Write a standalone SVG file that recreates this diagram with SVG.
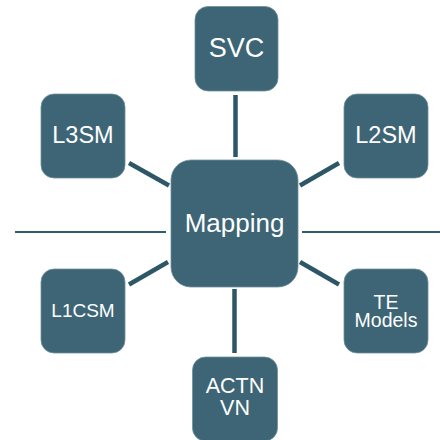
<svg xmlns="http://www.w3.org/2000/svg" width="440" height="440" viewBox="0 0 440 440">
<style>
.box{fill:#3d6576;stroke:#6f909d;stroke-width:0.8}
.t{fill:#ffffff;font-family:"Liberation Sans",Arial,sans-serif;text-anchor:middle}
.c{stroke:#2d5666;stroke-width:4.5;fill:none}
.h{stroke:#2f5d70;stroke-width:2;fill:none}
</style>
<rect width="440" height="440" fill="#ffffff"/>
<g id="connectors">
<line class="c" x1="235.5" y1="95" x2="235.5" y2="157"/>
<line class="c" x1="129" y1="163" x2="169" y2="185.5"/>
<line class="c" x1="339" y1="163" x2="300" y2="185.5"/>
<line class="c" x1="168" y1="262" x2="129" y2="284.5"/>
<line class="c" x1="300" y1="262" x2="339" y2="284.5"/>
<line class="c" x1="234.5" y1="289" x2="234.5" y2="353"/>
<line class="h" x1="15" y1="232" x2="166" y2="232"/>
<line class="h" x1="302" y1="232" x2="440" y2="232"/>
</g>
<g id="svc">
<rect class="box" x="195" y="6.5" width="83" height="84.5" rx="13"/>
<text class="t" x="236.5" y="57" font-size="27">SVC</text>
</g>
<g id="l3sm">
<rect class="box" x="41" y="94" width="84" height="84" rx="13"/>
<text class="t" x="83" y="143" font-size="23.5">L3SM</text>
</g>
<g id="l2sm">
<rect class="box" x="344" y="94" width="84" height="84" rx="13"/>
<text class="t" x="386" y="143" font-size="23.5">L2SM</text>
</g>
<g id="mapping">
<rect class="box" x="171" y="160" width="127" height="127" rx="20"/>
<text class="t" x="234.5" y="232" font-size="26">Mapping</text>
</g>
<g id="l1csm">
<rect class="box" x="41" y="269" width="84" height="84" rx="13"/>
<text class="t" x="83" y="317" font-size="19">L1CSM</text>
</g>
<g id="te-models">
<rect class="box" x="344" y="269" width="84" height="84" rx="13"/>
<text class="t" font-size="19.5"><tspan x="386" y="309">TE</tspan><tspan x="386" y="327">Models</tspan></text>
</g>
<g id="actn-vn">
<rect class="box" x="192.5" y="357" width="85" height="84" rx="13"/>
<text class="t" font-size="21.5"><tspan x="235" y="393">ACTN</tspan><tspan x="235" y="415">VN</tspan></text>
</g>
</svg>
